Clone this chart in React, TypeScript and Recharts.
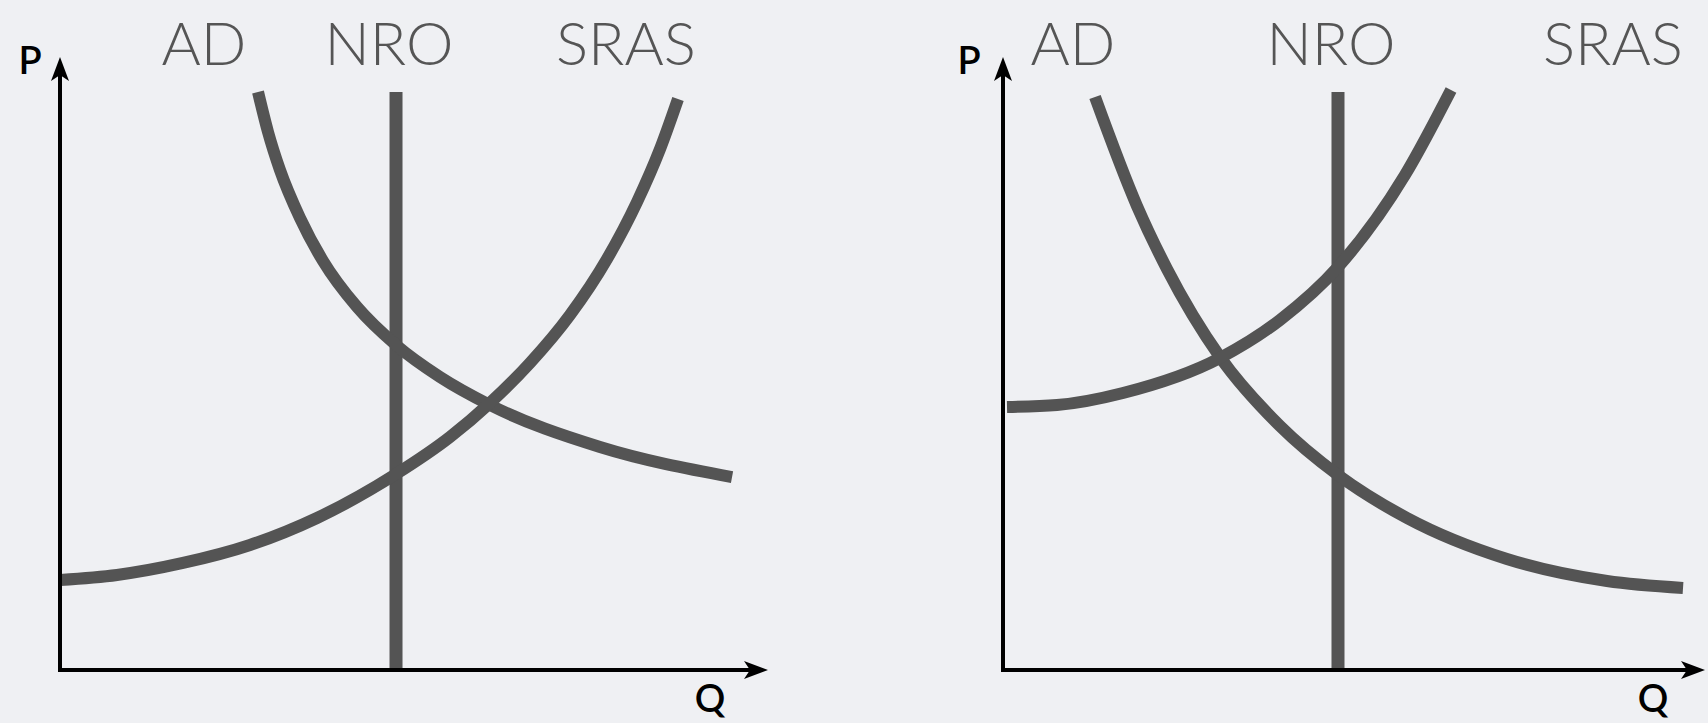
import React from 'react';
import { LineChart, Line, XAxis, YAxis, ReferenceLine, ReferenceDot } from 'recharts';

// Curve names and axis names
const curveNames = ['AD', 'NRO', 'SRAS'];
const axisNames = ['P', 'Q'];

// Left panel (Q, P on a 0-100 scale)
const leftAD = [
  { q: 27.97, p: 94.29 },
  { q: 29.38, p: 87.77 },
  { q: 31.07, p: 81.57 },
  { q: 33.9, p: 73.74 },
  { q: 37.15, p: 66.72 },
  { q: 41.95, p: 59.22 },
  { q: 47.46, p: 53.02 },
  { q: 53.67, p: 47.8 },
  { q: 60.73, p: 43.23 },
  { q: 76.27, p: 36.38 },
  { q: 94.92, p: 31.48 },
];
const leftSRAS = [
  { q: 0.0, p: 14.68 },
  { q: 8.05, p: 15.5 },
  { q: 17.37, p: 17.46 },
  { q: 26.84, p: 20.39 },
  { q: 36.3, p: 24.8 },
  { q: 47.46, p: 31.97 },
  { q: 55.08, p: 38.01 },
  { q: 60.73, p: 43.56 },
  { q: 66.38, p: 50.08 },
  { q: 72.03, p: 57.91 },
  { q: 77.26, p: 67.05 },
  { q: 81.5, p: 76.35 },
  { q: 84.75, p: 84.99 },
  { q: 87.29, p: 93.15 },
];
const leftNRO = { q: 47.46, top: 94.29 };

// Right panel
const rightAD = [
  { q: 13.11, p: 93.47 },
  { q: 19.09, p: 75.69 },
  { q: 23.36, p: 65.42 },
  { q: 30.91, p: 51.06 },
  { q: 39.46, p: 39.8 },
  { q: 47.72, p: 31.81 },
  { q: 57.55, p: 24.8 },
  { q: 71.79, p: 18.11 },
  { q: 86.04, p: 14.52 },
  { q: 96.87, p: 13.38 },
];
const rightSRAS = [
  { q: 0.57, p: 42.9 },
  { q: 7.69, p: 43.23 },
  { q: 17.09, p: 45.19 },
  { q: 30.91, p: 50.9 },
  { q: 39.46, p: 57.1 },
  { q: 47.72, p: 65.74 },
  { q: 57.26, p: 80.75 },
  { q: 63.82, p: 94.62 },
];
const rightNRO = { q: 47.72, top: 94.29 };

const CURVE = '#545454';
const BG = '#eff0f3';

const ArrowLine = (props: any) => {
  const { x1, y1, x2, y2 } = props;
  const dx = x2 - x1;
  const dy = y2 - y1;
  const len = Math.hypot(dx, dy) || 1;
  const ux = dx / len;
  const uy = dy / len;
  const headLen = 24;
  const headW = 9;
  const notch = 6;
  const nx = -uy;
  const ny = ux;
  const bx = x2 - ux * headLen;
  const by = y2 - uy * headLen;
  const mx = x2 - ux * (headLen - notch);
  const my = y2 - uy * (headLen - notch);
  const pts = [
    [x2, y2],
    [bx + nx * headW, by + ny * headW],
    [mx, my],
    [bx - nx * headW, by - ny * headW],
  ]
    .map((p) => p.join(','))
    .join(' ');
  return (
    <g>
      <line x1={x1} y1={y1} x2={mx} y2={my} stroke="#000" strokeWidth={4} strokeLinecap="square" />
      <polygon points={pts} fill="#000" />
    </g>
  );
};

const labelStyle = {
  position: 'center' as const,
  fill: '#555555',
  fontSize: 60,
  fontFamily: 'Lato, "Open Sans", sans-serif',
  fontWeight: 300,
};
const axisLabelStyle = {
  position: 'center' as const,
  fill: '#000000',
  fontSize: 38,
  fontFamily: 'Lato, "Open Sans", sans-serif',
  fontWeight: 600,
};

type PanelProps = {
  left: number;
  margin: { top: number; right: number; bottom: number; left: number };
  ad: { q: number; p: number }[];
  sras: { q: number; p: number }[];
  nro: { q: number; top: number };
  nameQ: number[];
  pQ: number;
  qQ: number;
};

function Panel({ left, margin, ad, sras, nro, nameQ, pQ, qQ }: PanelProps) {
  return (
    <div style={{ position: 'absolute', left, top: 0 }}>
      <LineChart width={854} height={723} margin={margin}>
        <XAxis type="number" dataKey="q" domain={[0, 100]} hide allowDataOverflow />
        <YAxis type="number" dataKey="p" domain={[0, 100]} hide allowDataOverflow />
        <ReferenceLine
          segment={[
            { x: nro.q, y: 0 },
            { x: nro.q, y: nro.top },
          ]}
          stroke={CURVE}
          strokeWidth={13}
          ifOverflow="visible"
        />
        <Line
          data={ad}
          dataKey="p"
          type="monotoneX"
          stroke={CURVE}
          strokeWidth={12}
          dot={false}
          activeDot={false}
          isAnimationActive={false}
        />
        <Line
          data={sras}
          dataKey="p"
          type="monotoneX"
          stroke={CURVE}
          strokeWidth={12}
          dot={false}
          activeDot={false}
          isAnimationActive={false}
        />
        <ReferenceLine
          segment={[
            { x: 0, y: 0 },
            { x: 100, y: 0 },
          ]}
          ifOverflow="visible"
          shape={ArrowLine}
        />
        <ReferenceLine
          segment={[
            { x: 0, y: 0 },
            { x: 0, y: 100 },
          ]}
          ifOverflow="visible"
          shape={ArrowLine}
        />
        {curveNames.map((n, i) => (
          <ReferenceDot
            key={n}
            x={nameQ[i]}
            y={102.1}
            r={0}
            fill="none"
            stroke="none"
            ifOverflow="visible"
            label={{ value: n, ...labelStyle }}
          />
        ))}
        <ReferenceDot
          x={pQ}
          y={99.5}
          r={0}
          fill="none"
          stroke="none"
          ifOverflow="visible"
          label={{ value: axisNames[0], ...axisLabelStyle }}
        />
        <ReferenceDot
          x={qQ}
          y={-4.6}
          r={0}
          fill="none"
          stroke="none"
          ifOverflow="visible"
          label={{ value: axisNames[1], ...axisLabelStyle }}
        />
      </LineChart>
    </div>
  );
}

export default function App() {
  return (
    <div
      style={{
        position: 'absolute',
        left: 0,
        top: 0,
        width: 1708,
        height: 723,
        background: BG,
        overflow: 'hidden',
      }}
    >
      <Panel
        left={0}
        margin={{ top: 57, right: 86, bottom: 53, left: 60 }}
        ad={leftAD}
        sras={leftSRAS}
        nro={leftNRO}
        nameQ={[20.34, 46.47, 79.94]}
        pQ={-4.24}
        qQ={91.8}
      />
      <Panel
        left={854}
        margin={{ top: 57, right: 3, bottom: 53, left: 149 }}
        ad={rightAD}
        sras={rightSRAS}
        nro={rightNRO}
        nameQ={[9.97, 46.72, 86.89]}
        pQ={-4.84}
        qQ={92.6}
      />
    </div>
  );
}
